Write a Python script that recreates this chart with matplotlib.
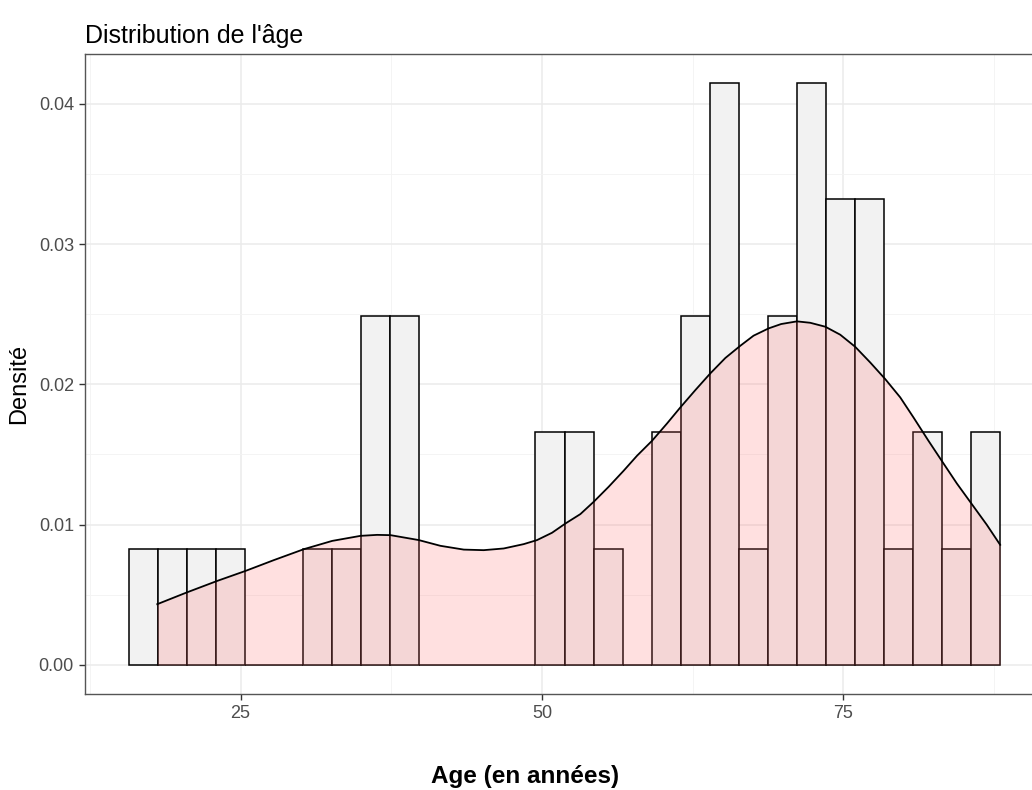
import numpy as np
import matplotlib.pyplot as plt

# histogram: 30 bins, counts (n = 50)
bin_start = 15.71
bin_width = 2.411
counts = [1, 1, 1, 1, 0, 0, 1, 1, 3, 3, 0, 0, 0, 0, 2,
          2, 1, 0, 2, 3, 5, 1, 3, 5, 4, 4, 1, 2, 1, 2]

# density curve points
dens_x = [18.09, 20.52, 23.07, 25.41, 27.76, 30.25, 32.60, 34.95, 36.33, 37.44,
          39.78, 41.58, 43.52, 45.17, 46.83, 48.49, 49.60, 50.84, 51.95, 53.19,
          54.30, 55.54, 56.78, 57.89, 59.14, 60.38, 61.48, 62.73, 63.97, 65.22,
          66.46, 67.56, 68.81, 69.85, 71.16, 72.26, 73.51, 74.75, 75.99, 77.24,
          78.48, 79.73, 80.83, 82.07, 83.32, 84.43, 85.67, 86.91, 88.02]
dens_y = [0.00433, 0.00516, 0.00599, 0.00670, 0.00747, 0.00825, 0.00884, 0.00920, 0.00927, 0.00925,
          0.00890, 0.00849, 0.00822, 0.00818, 0.00830, 0.00861, 0.00890, 0.00942, 0.01008, 0.01075,
          0.01163, 0.01270, 0.01384, 0.01491, 0.01598, 0.01721, 0.01835, 0.01959, 0.02078, 0.02188,
          0.02275, 0.02347, 0.02399, 0.02430, 0.02449, 0.02439, 0.02411, 0.02354, 0.02268, 0.02156,
          0.02038, 0.01907, 0.01764, 0.01598, 0.01436, 0.01293, 0.01146, 0.00999, 0.00856]

x_ticks = [25, 50, 75]
y_ticks = [0.00, 0.01, 0.02, 0.03, 0.04]

plt.rcParams['font.family'] = ['Liberation Sans', 'DejaVu Sans']

counts = np.array(counts)
n = counts.sum()
lefts = bin_start + bin_width * np.arange(len(counts))
heights = counts / (n * bin_width)

fig = plt.figure(figsize=(10.32, 7.9), dpi=100)
# panel runs a bit past the right edge of the picture, like the original
ax = fig.add_axes((85 / 1032, 1 - 694 / 790, (1044 - 85) / 1032, (694 - 54) / 790))

# grid (theme_bw style)
xmin, xmax = bin_start, bin_start + bin_width * len(counts)
pad = (xmax - xmin) * 0.05
ax.set_xlim(xmin - pad, xmax + pad)
ymax = heights.max()
ax.set_ylim(-ymax * 0.05, ymax * 1.05)
ax.set_xticks(x_ticks)
ax.set_xticks([12.5, 37.5, 62.5, 87.5], minor=True)
ax.set_yticks(y_ticks)
ax.set_yticks([0.005, 0.015, 0.025, 0.035], minor=True)
ax.set_yticklabels(["%.2f" % v for v in y_ticks])
ax.grid(True, which='major', color='#EBEBEB', linewidth=1.1, zorder=0)
ax.grid(True, which='minor', color='#F3F3F3', linewidth=0.6, zorder=0)
ax.set_axisbelow(True)

ax.bar(lefts, heights, width=bin_width, align='edge', color='#F2F2F2',
       edgecolor='black', linewidth=1.1, zorder=2)

ax.fill_between(dens_x, 0, dens_y, color='#FF6666', alpha=0.2, linewidth=0, zorder=3)
ax.plot(dens_x, dens_y, color='black', linewidth=1.3, zorder=4,
        solid_joinstyle='round')

for s in ax.spines.values():
    s.set_color('#555555')
    s.set_linewidth(1.0)

ax.tick_params(which='major', length=4, width=1.0, color='#333333',
               labelcolor='#4D4D4D', labelsize=13, pad=4)
ax.tick_params(which='minor', length=0)

ax.set_title("Distribution de l'âge", loc='left', fontsize=18, color='black', pad=8)
fig.text(525 / 1032, 1 - 776 / 790, "Age (en années)", ha='center', va='center',
         fontsize=17.5, fontweight='bold')
fig.text(19 / 1032, 1 - 384 / 790, "Densité", ha='center', va='center',
         rotation=90, fontsize=17)

fig.savefig("out.png", dpi=100)
